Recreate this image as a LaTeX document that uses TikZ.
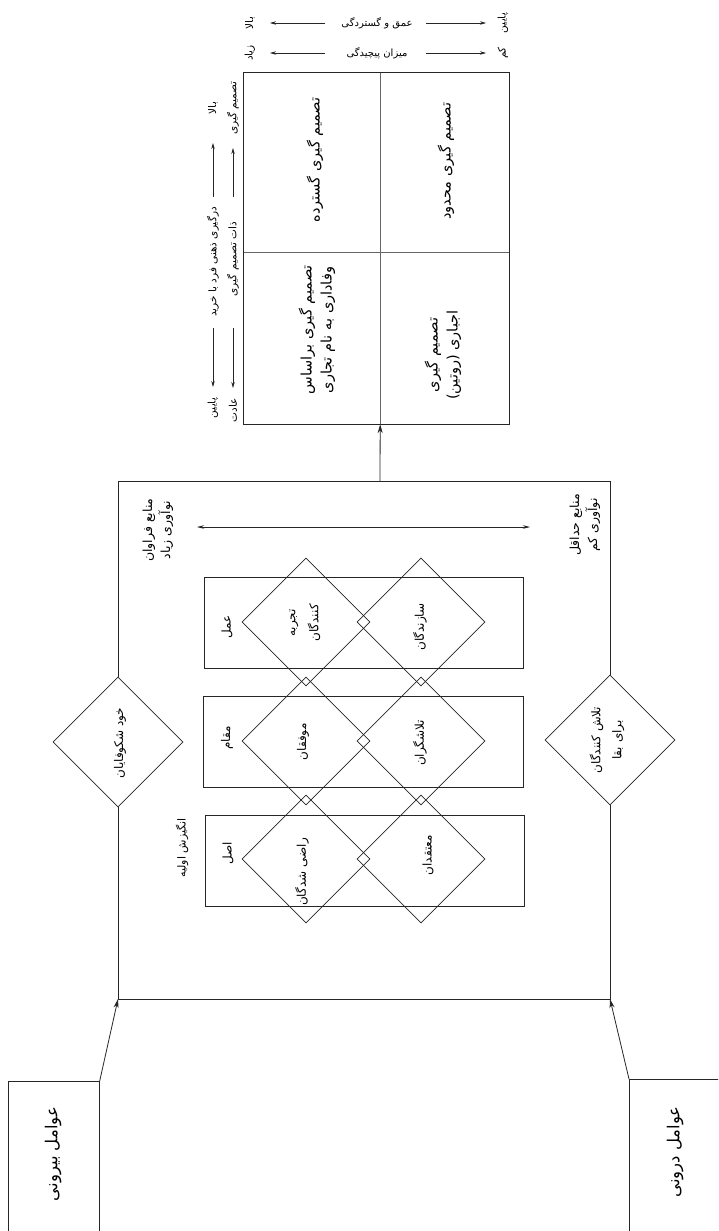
\documentclass[tikz,border=0pt]{standalone}
\usepackage{fontspec}
\newfontfamily\fa[Script=Arabic]{DejaVu Sans}
\TeXXeTstate=1
\usetikzlibrary{shapes.geometric,arrows.meta}
\newcommand{\pfa}[1]{\beginR #1\endR}
\tikzset{
  ln/.style={line width=0.7pt, draw=black!85},
  thinln/.style={line width=0.4pt, draw=black!60},
  boxx/.style={draw=black!85, line width=0.7pt, inner sep=0pt},
  dia/.style={diamond, aspect=1, draw=black!85, line width=0.7pt, minimum width=128pt, minimum height=128pt, inner sep=0pt},
  lbl/.style={font=\fa\fontsize{12}{23}\selectfont, rotate=90, inner sep=1pt, align=center, text=black},
  res/.style={font=\fa\fontsize{12.5}{18}\selectfont, rotate=90, inner sep=1pt, align=center, text=black},
  mtx/.style={font=\fa\fontsize{14.5}{20}\selectfont, rotate=90, inner sep=1pt, align=center, text=black},
  big/.style={font=\fa\fontsize{16.5}{20}\selectfont, rotate=90, inner sep=1pt, align=center, text=black},
  sm/.style={font=\fa\fontsize{10.5}{12}\selectfont, rotate=90, inner sep=1pt, align=center, text=black},
  smh/.style={font=\fa\fontsize{10}{12}\selectfont, inner sep=1pt, text=black},
  arr/.style={-{Stealth[length=9pt,width=5pt]}, line width=0.8pt, draw=black!85},
  sarr/.style={-{Stealth[length=6pt,width=3.5pt]}, line width=0.7pt, draw=black!85},
  darr/.style={{Stealth[length=7pt,width=3.5pt]}-{Stealth[length=7pt,width=3.5pt]}, line width=0.7pt, draw=black!85},
}
\begin{document}
\begin{tikzpicture}[x=1pt,y=-1pt]
\useasboundingbox (0,0) rectangle (718,1231);
\fill[white] (0,0) rectangle (718,1231);
\clip (0,0) rectangle (718,1231);

% ---------- top legend ----------
\node[sm] (bala1) at (250,23) {\pfa{بالا}};
\node[smh] (mid1) at (377,23) {\pfa{عمق و گستردگی}};
\node[sm] (payin1) at (503,23) {\pfa{پایین}};
\coordinate (a1s) at (325,23); \coordinate (a1e) at (270,23);
\coordinate (a1t) at (426,23); \coordinate (a1f) at (486,23);
\draw[sarr] (a1s) -- (a1e);
\draw[sarr] (a1t) -- (a1f);

\node[sm] (ziad) at (250,53) {\pfa{زیاد}};
\node[smh] (mid2) at (377,53) {\pfa{میزان پیچیدگی}};
\node[sm] (kam) at (503,53) {\pfa{کم}};
\coordinate (a2s) at (325,53); \coordinate (a2e) at (270,53);
\coordinate (a2t) at (426,53); \coordinate (a2f) at (486,53);
\draw[sarr] (a2s) -- (a2e);
\draw[sarr] (a2t) -- (a2f);

% ---------- side legend ----------
\node[sm] (s1a) at (213,108) {\pfa{بالا}};
\node[sm] (s1m) at (213,262) {\pfa{درگیری ذهنی فرد با خرید}};
\node[sm] (s1b) at (213,408) {\pfa{پایین}};
\coordinate (s1u0) at (213,197); \coordinate (s1u1) at (213,143);
\coordinate (s1d0) at (213,328); \coordinate (s1d1) at (213,387);
\draw[sarr] (s1u0) -- (s1u1);
\draw[sarr] (s1d0) -- (s1d1);

\node[sm] (s2a) at (233,108) {\pfa{تصمیم گیری}};
\node[sm] (s2m) at (233,259) {\pfa{ذات تصمیم گیری}};
\node[sm] (s2b) at (233,410) {\pfa{عادت}};
\coordinate (s2u0) at (233,197); \coordinate (s2u1) at (233,148);
\coordinate (s2d0) at (233,328); \coordinate (s2d1) at (233,388);
\draw[sarr] (s2u0) -- (s2u1);
\draw[sarr] (s2d0) -- (s2d1);

% ---------- matrix ----------
\node[inner sep=0, minimum width=136pt, minimum height=179pt] (mTL) at (312,162.5) {};
\node[inner sep=0, minimum width=129pt, minimum height=179pt] (mTR) at (444.5,162.5) {};
\node[inner sep=0, minimum width=136pt, minimum height=172pt] (mBL) at (312,338) {};
\node[inner sep=0, minimum width=129pt, minimum height=172pt] (mBR) at (444.5,338) {};
\draw[thinln] (mTL.south west) -- (mTR.south east);
\draw[thinln] (mTL.north east) -- (mBL.south east);
\draw[ln] (mTL.north west) rectangle (mBR.south east);

\node[mtx] (t1) at (315,160) {\pfa{تصمیم گیری گسترده}};
\node[mtx] (t2) at (446,161) {\pfa{تصمیم گیری محدود}};
\node[mtx] (t3) at (317,330) {\pfa{تصمیم گیری براساس}\\\pfa{وفاداری به نام تجاری}};
\node[mtx] (t4) at (443,355) {\pfa{تصمیم گیری}\\\pfa{اجباری (روتین)}};

% ---------- frame ----------
\node[dia, minimum width=130pt, minimum height=130pt] (dk) at (118,742) {};
\node[dia, minimum width=130pt, minimum height=130pt] (dt) at (610,740) {};
\coordinate (FTL) at (118,481); \coordinate (FTR) at (610,481);
\coordinate (FBL) at (118,999); \coordinate (FBR) at (610,999);
\coordinate (FA) at (380,481);
\draw[ln] (dk.north) -- (FTL) -- (FTR) -- (dt.north);
\draw[ln] (dk.south) -- (FBL) -- (FBR) -- (dt.south);
\draw[arr] (FA) -- (mBL.south east);

\node[lbl] (dkt) at (120,743) {\pfa{خود شکوفایان}};
\node[lbl, font=\fa\fontsize{12}{21}\selectfont] (dtt) at (607,740) {\pfa{تلاش کنندگان}\\\pfa{برای بقا}};

\node[res] (hi) at (158,530) {\pfa{منابع فراوان}\\\pfa{نوآوری زیاد}};
\node[res] (lo) at (585,525) {\pfa{منابع حداقل}\\\pfa{نوآوری کم}};
\coordinate (hl) at (197,527); \coordinate (hr) at (530,527);
\draw[darr] (hl) -- (hr);

% ---------- inner boxes ----------
\node[boxx, minimum width=319pt, minimum height=91pt] (b1) at (363.5,622.5) {};
\node[boxx, minimum width=320pt, minimum height=91pt] (b2) at (363.5,741.5) {};
\node[boxx, minimum width=319pt, minimum height=91pt] (b3) at (364.5,860.5) {};

\node[dia] (d11) at (306,622) {};
\node[dia] (d12) at (421,622) {};
\node[dia] (d21) at (306,741) {};
\node[dia] (d22) at (421,741) {};
\node[dia] (d31) at (306,859) {};
\node[dia] (d32) at (421,859) {};

\node[lbl] (l1) at (227,627) {\pfa{عمل}};
\node[lbl] (l2) at (227,738) {\pfa{مقام}};
\node[lbl] (l3) at (228,853) {\pfa{اصل}};
\node[lbl, font=\fa\fontsize{11}{13}\selectfont] (l0) at (182,848) {\pfa{انگیزش اولیه}};

\node[lbl] (n11) at (305,623) {\pfa{تجربه}\\\pfa{کنندگان}};
\node[lbl] (n12) at (420,627) {\pfa{سازندگان}};
\node[lbl] (n21) at (303,742) {\pfa{موفقان}};
\node[lbl] (n22) at (420,743) {\pfa{تلاشگران}};
\node[lbl] (n31) at (302,872) {\pfa{راضی شدگان}};
\node[lbl] (n32) at (428,855) {\pfa{معتقدان}};

% ---------- factor boxes ----------
\node[boxx, anchor=north west, minimum width=91pt, minimum height=170pt] (ext) at (8,1081) {};
\node[boxx, anchor=north west, minimum width=120pt, minimum height=170pt] (int) at (629,1079) {};
\node[big] (extt) at (53,1154) {\pfa{عوامل بیرونی}};
\node[big] (intt) at (675,1152) {\pfa{عوامل درونی}};
\draw[arr] (ext.north east) -- (FBL);
\draw[arr] (int.north west) -- (FBR);
\end{tikzpicture}
\end{document}
